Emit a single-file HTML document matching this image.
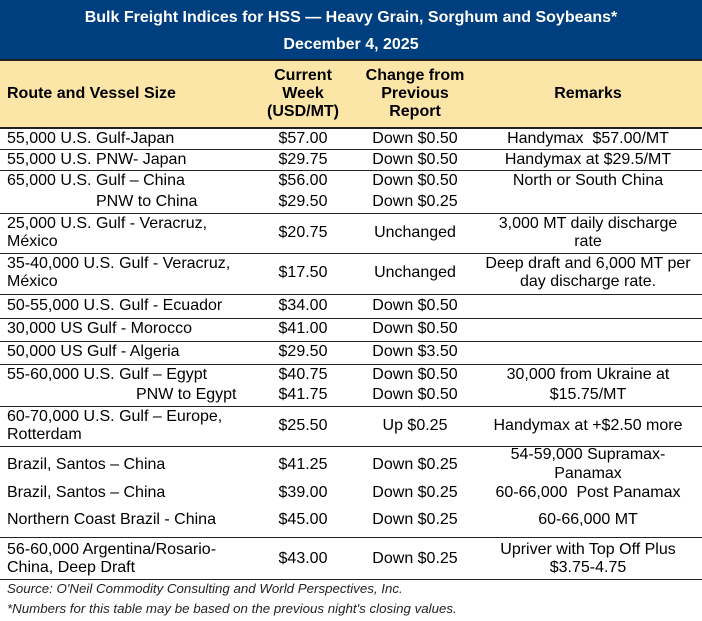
<!DOCTYPE html><html><head><meta charset="utf-8"><style>
body{margin:0;width:702px;height:621px;background:#fff;position:relative;overflow:hidden;font-family:"Liberation Sans",Arial,sans-serif;color:#000}
.t{position:absolute;font-size:16px;line-height:18px;white-space:nowrap}
.l{}
.c{transform:translateX(-50%)}
.b{font-weight:bold}
.hr{position:absolute;left:0;width:702px;height:1px;background:#222}
.i{font-style:italic;font-size:13.3px;color:#222}
</style></head><body>
<div style="position:absolute;left:0;top:0;width:702px;height:60px;background:#003f7f"></div>
<div style="position:absolute;left:0;top:60px;width:702px;height:68px;background:#fbe6a8"></div>
<div class="hr" style="top:59px;height:2px"></div>
<div class="hr" style="top:127px;height:2px"></div>
<div class="t c b" style="left:351px;top:9px;color:#fff">Bulk Freight Indices for HSS — Heavy Grain, Sorghum and Soybeans*</div>
<div class="t c b" style="left:351px;top:36px;color:#fff">December 4, 2025</div>
<div class="t l b" style="left:7px;top:85px">Route and Vessel Size</div>
<div class="t c b" style="left:303px;top:67px">Current</div>
<div class="t c b" style="left:303px;top:85px">Week</div>
<div class="t c b" style="left:303px;top:103px">(USD/MT)</div>
<div class="t c b" style="left:415px;top:67px">Change from</div>
<div class="t c b" style="left:415px;top:85px">Previous</div>
<div class="t c b" style="left:415px;top:103px">Report</div>
<div class="t c b" style="left:588px;top:85px">Remarks</div>

<div class="t l" style="left:7px;top:130px">55,000 U.S. Gulf-Japan</div><div class="t c" style="left:303px;top:130px">$57.00</div><div class="t c" style="left:415px;top:130px">Down $0.50</div><div class="t c" style="left:588px;top:130px">Handymax&nbsp; $57.00/MT</div>
<div class="hr" style="top:149px"></div>
<div class="t l" style="left:7px;top:151px">55,000 U.S. PNW- Japan</div><div class="t c" style="left:303px;top:151px">$29.75</div><div class="t c" style="left:415px;top:151px">Down $0.50</div><div class="t c" style="left:588px;top:151px">Handymax at $29.5/MT</div>
<div class="hr" style="top:170px"></div>
<div class="t l" style="left:7px;top:172px">65,000 U.S. Gulf – China</div><div class="t c" style="left:303px;top:172px">$56.00</div><div class="t c" style="left:415px;top:172px">Down $0.50</div><div class="t c" style="left:588px;top:172px">North or South China</div>
<div class="t l" style="left:96px;top:193px">PNW to China</div><div class="t c" style="left:303px;top:193px">$29.50</div><div class="t c" style="left:415px;top:193px">Down $0.25</div>
<div class="hr" style="top:213px"></div>
<div class="t l" style="left:7px;top:215px">25,000 U.S. Gulf - Veracruz,</div><div class="t l" style="left:7px;top:233px">México</div><div class="t c" style="left:303px;top:224px">$20.75</div><div class="t c" style="left:415px;top:224px">Unchanged</div><div class="t c" style="left:588px;top:215px">3,000 MT daily discharge</div><div class="t c" style="left:588px;top:233px">rate</div>
<div class="hr" style="top:253px"></div>
<div class="t l" style="left:7px;top:255px">35-40,000 U.S. Gulf - Veracruz,</div><div class="t l" style="left:7px;top:273px">México</div><div class="t c" style="left:303px;top:264px">$17.50</div><div class="t c" style="left:415px;top:264px">Unchanged</div><div class="t c" style="left:588px;top:255px">Deep draft and 6,000 MT per</div><div class="t c" style="left:588px;top:273px">day discharge rate.</div>
<div class="hr" style="top:294px"></div>
<div class="t l" style="left:7px;top:297px">50-55,000 U.S. Gulf - Ecuador</div><div class="t c" style="left:303px;top:297px">$34.00</div><div class="t c" style="left:415px;top:297px">Down $0.50</div>
<div class="hr" style="top:318px"></div>
<div class="t l" style="left:7px;top:320px">30,000 US Gulf - Morocco</div><div class="t c" style="left:303px;top:320px">$41.00</div><div class="t c" style="left:415px;top:320px">Down $0.50</div>
<div class="hr" style="top:341px"></div>
<div class="t l" style="left:7px;top:343px">50,000 US Gulf - Algeria</div><div class="t c" style="left:303px;top:343px">$29.50</div><div class="t c" style="left:415px;top:343px">Down $3.50</div>
<div class="hr" style="top:364px"></div>
<div class="t l" style="left:7px;top:366px">55-60,000 U.S. Gulf – Egypt</div><div class="t c" style="left:303px;top:366px">$40.75</div><div class="t c" style="left:415px;top:366px">Down $0.50</div><div class="t c" style="left:588px;top:366px">30,000 from Ukraine at</div>
<div class="t l" style="left:136px;top:386px">PNW to Egypt</div><div class="t c" style="left:303px;top:386px">$41.75</div><div class="t c" style="left:415px;top:386px">Down $0.50</div><div class="t c" style="left:588px;top:386px">$15.75/MT</div>
<div class="hr" style="top:406px"></div>
<div class="t l" style="left:7px;top:408px">60-70,000 U.S. Gulf – Europe,</div><div class="t l" style="left:7px;top:426px">Rotterdam</div><div class="t c" style="left:303px;top:417px">$25.50</div><div class="t c" style="left:415px;top:417px">Up $0.25</div><div class="t c" style="left:588px;top:417px">Handymax at +$2.50 more</div>
<div class="hr" style="top:446px"></div>
<div class="t l" style="left:7px;top:456px">Brazil, Santos – China</div><div class="t c" style="left:303px;top:456px">$41.25</div><div class="t c" style="left:415px;top:456px">Down $0.25</div><div class="t c" style="left:588px;top:446px">54-59,000 Supramax-</div><div class="t c" style="left:588px;top:465px">Panamax</div>
<div class="t l" style="left:7px;top:484px">Brazil, Santos – China</div><div class="t c" style="left:303px;top:484px">$39.00</div><div class="t c" style="left:415px;top:484px">Down $0.25</div><div class="t c" style="left:588px;top:484px">60-66,000&nbsp; Post Panamax</div>
<div class="t l" style="left:7px;top:511px">Northern Coast Brazil - China</div><div class="t c" style="left:303px;top:511px">$45.00</div><div class="t c" style="left:415px;top:511px">Down $0.25</div><div class="t c" style="left:588px;top:511px">60-66,000 MT</div>
<div class="hr" style="top:537px"></div>
<div class="t l" style="left:7px;top:541px">56-60,000 Argentina/Rosario-</div><div class="t l" style="left:7px;top:559px">China, Deep Draft</div><div class="t c" style="left:303px;top:550px">$43.00</div><div class="t c" style="left:415px;top:550px">Down $0.25</div><div class="t c" style="left:588px;top:541px">Upriver with Top Off Plus</div><div class="t c" style="left:588px;top:559px">$3.75-4.75</div>
<div class="hr" style="top:579px"></div>
<div class="t l i" style="left:7px;top:580px">Source: O'Neil Commodity Consulting and World Perspectives, Inc.</div>
<div class="t l i" style="left:7px;top:600px">*Numbers for this table may be based on the previous night's closing values.</div>
</body></html>
